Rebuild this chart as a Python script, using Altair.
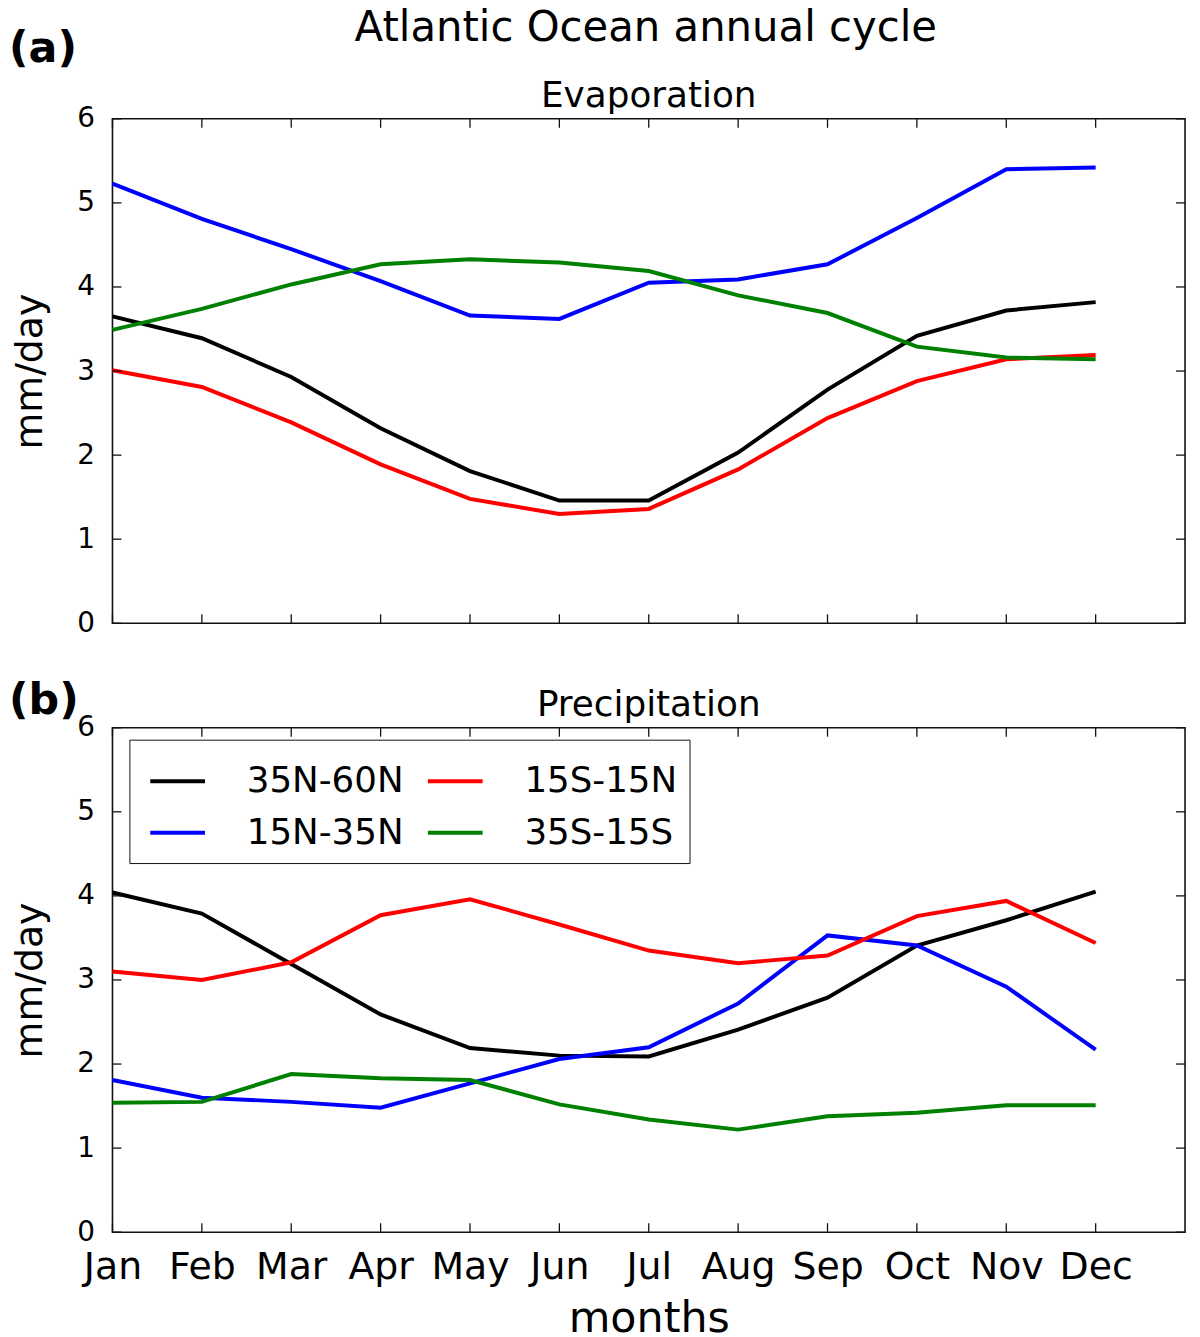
import altair as alt
import pandas as pd

months = ["Jan", "Feb", "Mar", "Apr", "May", "Jun", "Jul", "Aug", "Sep", "Oct", "Nov", "Dec"]
regions = ["35N-60N", "15N-35N", "15S-15N", "35S-15S"]
region_colors = ["#000000", "#0000ff", "#ff0000", "#008000"]
panel_labels = ["(a)", "(b)"]
panel_titles = ["Evaporation", "Precipitation"]
main_title = "Atlantic Ocean annual cycle"
y_ticks = [0, 1, 2, 3, 4, 5, 6]

evap_35n_60n = [3.65, 3.39, 2.93, 2.32, 1.81, 1.46, 1.46, 2.03, 2.78, 3.42, 3.72, 3.82]
evap_15n_35n = [5.23, 4.81, 4.45, 4.07, 3.66, 3.62, 4.05, 4.09, 4.27, 4.82, 5.40, 5.42]
evap_15s_15n = [3.01, 2.81, 2.39, 1.89, 1.48, 1.30, 1.36, 1.83, 2.44, 2.88, 3.14, 3.19]
evap_35s_15s = [3.49, 3.74, 4.03, 4.27, 4.33, 4.29, 4.19, 3.90, 3.69, 3.29, 3.16, 3.14]

prec_35n_60n = [4.04, 3.79, 3.19, 2.59, 2.19, 2.10, 2.09, 2.41, 2.79, 3.41, 3.71, 4.05]
prec_15n_35n = [1.81, 1.60, 1.55, 1.48, 1.77, 2.06, 2.20, 2.72, 3.53, 3.41, 2.92, 2.17]
prec_15s_15n = [3.10, 3.00, 3.21, 3.77, 3.96, 3.66, 3.35, 3.20, 3.29, 3.76, 3.94, 3.44]
prec_35s_15s = [1.54, 1.55, 1.88, 1.83, 1.81, 1.52, 1.34, 1.22, 1.38, 1.42, 1.51, 1.51]

evap_series = [evap_35n_60n, evap_15n_35n, evap_15s_15n, evap_35s_15s]
prec_series = [prec_35n_60n, prec_15n_35n, prec_15s_15n, prec_35s_15s]


def long_df(series_list):
    rows = []
    for k, (reg, vals) in enumerate(zip(regions, series_list)):
        for i, v in enumerate(vals):
            rows.append({"m": i, "region": reg, "value": v, "k": k})
    return pd.DataFrame(rows)


FONT = "DejaVu Sans"
W, H = 1078, 507
TICK = 9
x_scale = alt.Scale(domain=[0, 12], nice=False, zero=False)
y_scale = alt.Scale(domain=[0, 6], nice=False, zero=True)
label_expr = "[" + ",".join("'%s'" % m for m in months) + "][datum.value]"

xt_df = pd.DataFrame({"t": list(range(len(months)))})
yt_df = pd.DataFrame({"v": y_ticks})


def panel(series_list, idx, bottom):
    df = long_df(series_list)
    x_axis_kw = dict(values=list(range(len(months))), labelExpr=label_expr,
                     labelFontSize=38, labelPadding=17, labels=bottom,
                     labelOverlap=False, labelFlush=False, labelBound=False)
    if bottom:
        x_axis_kw.update(title="months", titleFontSize=43, titlePadding=11)
    else:
        x_axis_kw.update(title="")
    y_axis = alt.Axis(values=y_ticks, format="d", labelFontSize=28, labelPadding=18,
                      labelOverlap=False, labelFlush=False,
                      title="mm/day", titleFontSize=38, titlePadding=28)
    if bottom:
        legend = alt.Legend(
            title=None, orient="none", legendX=17, legendY=12, columns=2,
            symbolType="M-1,0L1,0", symbolSize=3025, symbolStrokeWidth=4, symbolOffset=7,
            labelFontSize=35.8, labelFont=FONT, labelColor="black", labelOffset=40,
            columnPadding=15, rowPadding=4, padding=12,
            strokeColor="#111111", fillColor="white", labelLimit=400,
        )
    else:
        legend = None
    lines = alt.Chart(df).mark_line(strokeWidth=4).encode(
        x=alt.X("m:Q", scale=x_scale, axis=alt.Axis(**x_axis_kw)),
        y=alt.Y("value:Q", scale=y_scale, axis=y_axis),
        color=alt.Color("region:N",
                        scale=alt.Scale(domain=regions, range=region_colors),
                        legend=legend),
        order=alt.Order("k:Q"),
    )
    tick_style = dict(color="#111111", strokeWidth=1.3)
    xb = alt.Chart(xt_df).mark_rule(**tick_style).encode(
        x=alt.X("t:Q", scale=x_scale), y=alt.value(H), y2=alt.value(H - TICK))
    xtp = alt.Chart(xt_df).mark_rule(**tick_style).encode(
        x=alt.X("t:Q", scale=x_scale), y=alt.value(0), y2=alt.value(TICK))
    yl = alt.Chart(yt_df).mark_rule(**tick_style).encode(
        y=alt.Y("v:Q", scale=y_scale), x=alt.value(0), x2=alt.value(TICK))
    yr = alt.Chart(yt_df).mark_rule(**tick_style).encode(
        y=alt.Y("v:Q", scale=y_scale), x=alt.value(W), x2=alt.value(W - TICK))
    lab = alt.Chart(pd.DataFrame({"label": [panel_labels[idx]]})).mark_text(
        font=FONT, fontSize=43, fontWeight="bold", align="left", baseline="alphabetic",
        color="black",
    ).encode(text="label:N", x=alt.value(-104), y=alt.value(-57 if idx == 0 else -14))
    ptitle = alt.Chart(pd.DataFrame({"label": [panel_titles[idx]]})).mark_text(
        font=FONT, fontSize=36, align="center", baseline="alphabetic", color="black",
    ).encode(text="label:N", x=alt.value(W / 2), y=alt.value(-12))
    layers = [lines, xb, xtp, yl, yr, lab, ptitle]
    if idx == 0:
        mtitle = alt.Chart(pd.DataFrame({"label": [main_title]})).mark_text(
            font=FONT, fontSize=42, align="center", baseline="top", color="black",
        ).encode(text="label:N", x=alt.value(W / 2 - 3), y=alt.value(-111))
        layers.append(mtitle)
    return alt.layer(*layers).properties(width=W, height=H)


top = panel(evap_series, 0, False)
bot = panel(prec_series, 1, True)

chart = alt.vconcat(top, bot, spacing=41).resolve_scale(color="independent").resolve_legend(
    color="independent"
).properties(
    padding={"left": 0, "top": -5, "right": 5, "bottom": 0}, background="white"
).configure_view(
    stroke="#111111", strokeWidth=1.6
).configure_axis(
    grid=False, domain=False, ticks=False, tickSize=0,
    labelFont=FONT, labelColor="black", titleFont=FONT, titleColor="black",
    titleFontWeight="normal",
)

chart.save("out.html", embed_options={"renderer": "svg", "actions": False})
